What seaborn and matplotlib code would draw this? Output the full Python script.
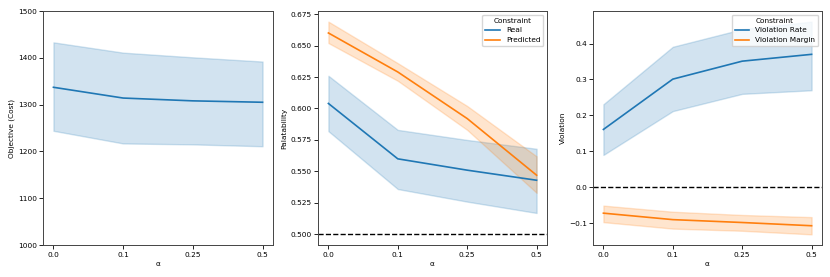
import pandas as pd
import matplotlib.pyplot as plt
import seaborn as sns

# ---------------------------
# Data
# ---------------------------
alphas = ["0.0", "0.1", "0.25", "0.5"]

cost_mean = [1337, 1314, 1308, 1305]
cost_low = [1244, 1217, 1215, 1211]
cost_high = [1433, 1411, 1401, 1392]

real_mean = [0.604, 0.560, 0.551, 0.543]
real_low = [0.582, 0.536, 0.526, 0.517]
real_high = [0.626, 0.583, 0.575, 0.568]

pred_mean = [0.660, 0.629, 0.592, 0.547]
pred_low = [0.652, 0.622, 0.583, 0.533]
pred_high = [0.669, 0.636, 0.602, 0.562]

rate_mean = [0.161, 0.301, 0.351, 0.370]
rate_low = [0.090, 0.212, 0.260, 0.270]
rate_high = [0.231, 0.391, 0.440, 0.461]

margin_mean = [-0.072, -0.090, -0.098, -0.107]
margin_low = [-0.097, -0.115, -0.121, -0.131]
margin_high = [-0.051, -0.068, -0.077, -0.083]


def long_form(name, low, mid, high):
    rows = []
    for a, l, m, h in zip(alphas, low, mid, high):
        for v in (l, m, h):
            rows.append({"alpha": a, "value": v, "Constraint": name})
    return rows


df_cost = pd.DataFrame(long_form("Cost", cost_low, cost_mean, cost_high))
df_pal = pd.DataFrame(long_form("Real", real_low, real_mean, real_high)
                      + long_form("Predicted", pred_low, pred_mean, pred_high))
df_vio = pd.DataFrame(long_form("Violation Rate", rate_low, rate_mean, rate_high)
                      + long_form("Violation Margin", margin_low, margin_mean, margin_high))

# ---------------------------
# Plot
# ---------------------------
plt.rcParams["font.size"] = 5.3
plt.rcParams["axes.linewidth"] = 0.7
plt.rcParams["axes.edgecolor"] = "#444444"
plt.rcParams["xtick.major.width"] = 0.6
plt.rcParams["ytick.major.width"] = 0.6
plt.rcParams["xtick.major.size"] = 2.8
plt.rcParams["ytick.major.size"] = 2.8
plt.rcParams["xtick.major.pad"] = 2
plt.rcParams["ytick.major.pad"] = 1.5
plt.rcParams["axes.labelpad"] = 2.5

fig = plt.figure(figsize=(8.3, 2.77), dpi=100)
ax1 = fig.add_axes([43 / 830, 32 / 277, 230 / 830, 234 / 277])
ax2 = fig.add_axes([318 / 830, 32 / 277, 229 / 830, 234 / 277])
ax3 = fig.add_axes([593 / 830, 32 / 277, 229 / 830, 234 / 277])

kw = dict(x="alpha", y="value", estimator="median", errorbar=("pi", 100), lw=1.2)

sns.lineplot(data=df_cost, ax=ax1, **kw)
ax1.set_ylim(1000, 1500)
ax1.set_ylabel("Objective (Cost)")

sns.lineplot(data=df_pal, hue="Constraint", ax=ax2, **kw)
ax2.axhline(0.5, color="black", ls="--", lw=1.0)
ax2.set_ylabel("Palatability")

sns.lineplot(data=df_vio, hue="Constraint", ax=ax3, **kw)
ax3.axhline(0.0, color="black", ls="--", lw=1.0)
ax3.set_ylabel("Violation")

for ax in (ax1, ax2, ax3):
    ax.set_xlabel("α")

for ax in (ax2, ax3):
    ax.legend(title="Constraint", loc="upper right", fontsize=5.3, title_fontsize=5.3)

plt.savefig("out.png", dpi=100)
